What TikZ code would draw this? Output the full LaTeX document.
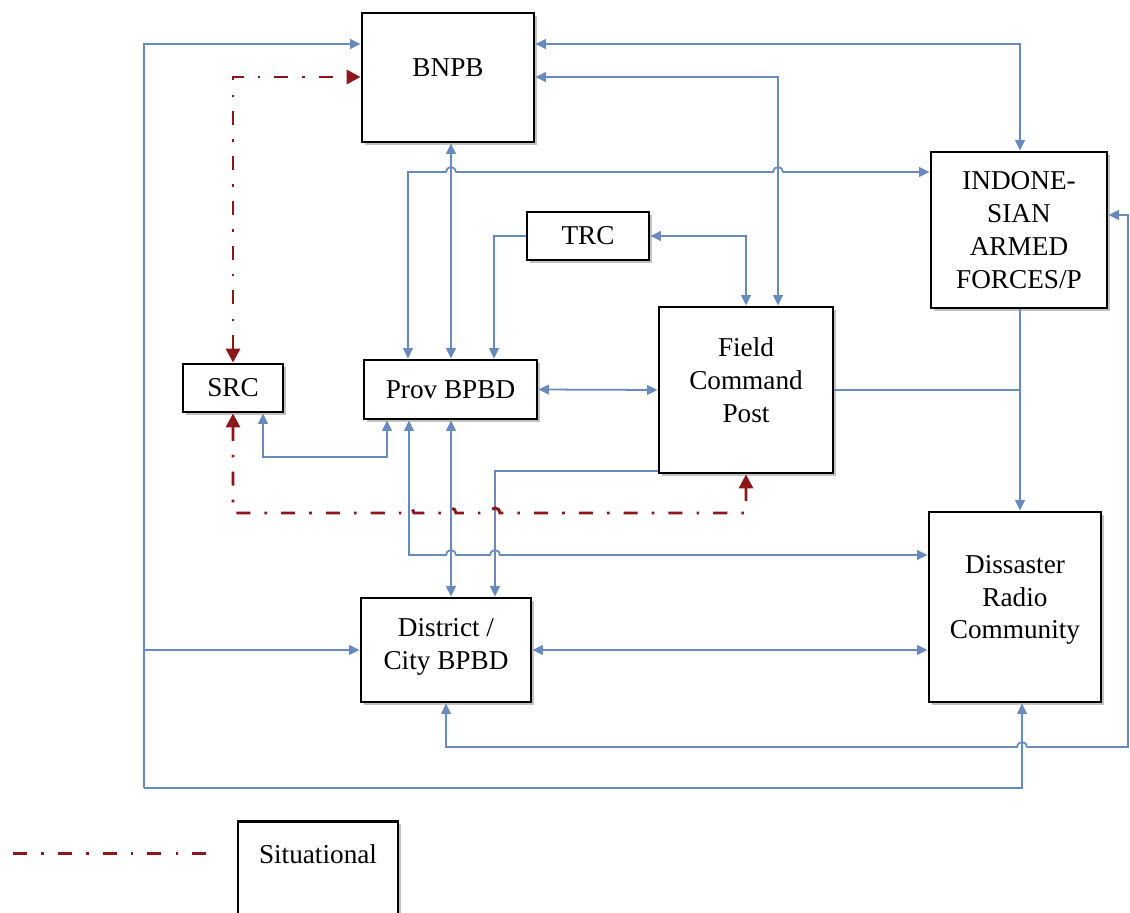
\documentclass[tikz,border=0pt]{standalone}
\usepackage{fontspec}
\setmainfont{Liberation Serif}
\usetikzlibrary{arrows.meta,shadows}

\definecolor{linkblue}{RGB}{105,138,190}
\definecolor{sitred}{RGB}{140,22,28}

\tikzset{
  unit/.style={draw,line width=1.6pt,fill=white,align=center,inner sep=1pt,
    font=\fontsize{15.5}{18.7}\selectfont,
    drop shadow={shadow xshift=1.6pt,shadow yshift=-1.6pt,fill=black!40,opacity=0.6}},
  topbox/.style={unit,text depth=0.4cm},
  link/.style={draw=linkblue,line width=1pt,>={Triangle[length=6pt,width=5.5pt]}},
  situ/.style={draw=sitred,line width=1.7pt,
    dash pattern=on 8pt off 8pt on 1.5pt off 8pt,
    >={Triangle[length=8pt,width=8pt]}},
}

\begin{document}
\begin{tikzpicture}[x=0.02cm,y=-0.02cm]
    \useasboundingbox (0,0) rectangle (1130,913);

    % agencies
    \node[topbox,minimum width=3.44cm,minimum height=2.58cm] (bnpb) at (448,77.5) {BNPB};
    \node[unit,minimum width=2.44cm,minimum height=0.96cm] (trc) at (588,236) {TRC};
    \node[unit,minimum width=3.52cm,minimum height=3.12cm] (tni) at (1019,230) {INDONE-\\SIAN\\ARMED\\FORCES/P};
    \node[unit,minimum width=2cm,minimum height=0.96cm] (src) at (233,388) {SRC};
    \node[unit,minimum width=3.46cm,minimum height=1.18cm] (prov) at (450.5,389.5) {Prov BPBD};
    \node[topbox,minimum width=3.48cm,minimum height=3.32cm] (fcp) at (746,390) {Field\\Command\\Post};
    \node[topbox,minimum width=3.44cm,minimum height=3.8cm] (radio) at (1015,607) {Dissaster\\Radio\\Community};
    \node[unit,minimum width=3.4cm,minimum height=2.08cm,text depth=0.24cm] (dist) at (446,650) {District /\\City BPBD};

    % legend
    \node[unit,drop shadow={opacity=0},anchor=north,minimum width=3.2cm,minimum height=2.2cm,text depth=0.88cm] (legend) at (318,820) {Situational};
    \coordinate (keyA) at (13,853);
    \coordinate (keyB) at (220,853);
    \draw[situ] (keyA) -- (keyB);

    % lanes and bends
    \coordinate (busTL) at (144,44);
    \coordinate (busML) at (144,650);
    \coordinate (busBL) at (144,788);
    \coordinate (busBR) at (1022,788);
    \coordinate (c1) at (1020,44);
    \coordinate (c2) at (778,77);
    \coordinate (c3) at (408,172);
    \coordinate (lnA) at (451,300);
    \coordinate (c5) at (494,237);
    \coordinate (c6) at (263,457);
    \coordinate (c7) at (387,457);
    \coordinate (c8) at (409,555);
    \coordinate (c9) at (495,471);
    \coordinate (c10) at (1020,390);
    \coordinate (c11) at (1128,747);
    \coordinate (c12) at (1128,215);
    \coordinate (r1) at (232,77);
    \coordinate (r2) at (232,513);

    % outer bus
    \draw[link,->] (busBL) -- (busTL) -- (bnpb.west |- busTL);
    \draw[link,->] (busML) -- (dist.west |- busML);
    \draw[link,->] (busBL) -- (busBR) -- (radio.south -| busBR);

    % blue links
    \draw[link,<->] (bnpb.east |- c1) -- (c1) -- (tni.north -| c1);
    \draw[link,<->] (bnpb.east |- c2) -- (c2) -- (fcp.north -| c2);
    \draw[link,<->] (prov.north -| c3) -- (c3) -- (446,172)
        arc[start angle=180,end angle=0,radius=0.1cm] -- (773,172)
        arc[start angle=180,end angle=0,radius=0.1cm] -- (tni.west |- c3);
    \draw[link,<->] (bnpb.south -| lnA) -- (prov.north -| lnA);
    \draw[link,->] (trc.west) -| (prov.north -| c5);
    \draw[link,<->] (trc.east) -| (fcp.north);
    \draw[link,<->] (prov.east) -- (fcp.west);
    \draw[link,<->] (src.south -| c6) -- (c6) -- (c7) -- (prov.south -| c7);
    \draw[link,<->] (prov.south -| c8) -- (c8) -- (446,555)
        arc[start angle=180,end angle=0,radius=0.1cm] -- (490,555)
        arc[start angle=180,end angle=0,radius=0.1cm] -- (radio.west |- c8);
    \draw[link,<->] (prov.south -| lnA) -- (dist.north -| lnA);
    \draw[link,->] (fcp.west |- c9) -- (c9) -- (dist.north -| c9);
    \draw[link,->] (tni.south -| c10) -- (radio.north -| c10);
    \draw[link] (fcp.east) -- (fcp.east -| c10);
    \draw[link,<->] (dist.east) -- (radio.west |- dist.east);
    \draw[link,<->] (dist.south) -- (dist.south |- c11) -- (1017,747)
        arc[start angle=180,end angle=0,radius=0.1cm] -- (c11) -- (c12) -- (tni.east |- c12);

    % situational links
    \draw[situ,<->] (src.north) -- (src.north |- r1) -- (bnpb.west |- r1);
    \draw[situ,<->] (src.south) -- (src.south |- r2) -- (404,513)
        arc[start angle=180,end angle=0,radius=0.1cm] -- (446,513)
        arc[start angle=180,end angle=0,radius=0.1cm] -- (490,513)
        arc[start angle=180,end angle=0,radius=0.1cm] -- (fcp.south |- r2) -- (fcp.south);
\end{tikzpicture}
\end{document}
